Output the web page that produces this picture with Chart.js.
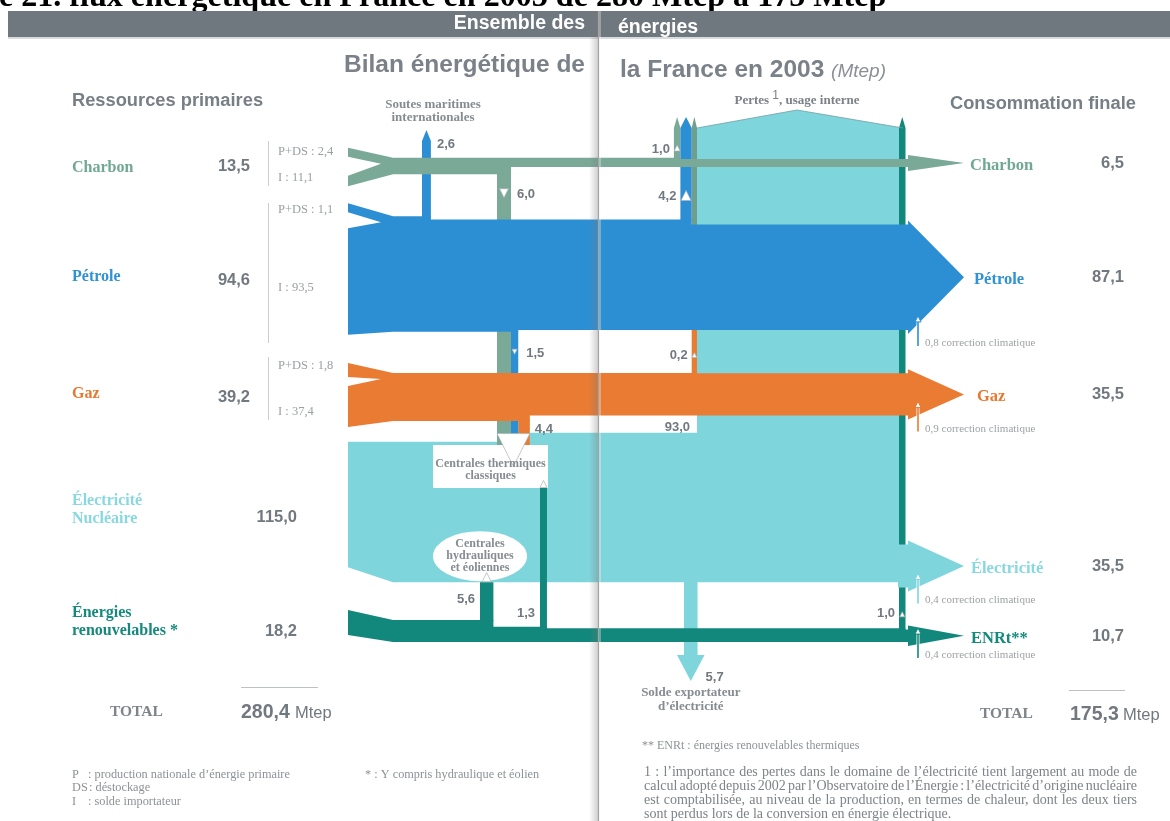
<!DOCTYPE html>
<html lang="fr">
<head>
<meta charset="utf-8">
<title>Bilan énergétique de la France en 2003</title>
<script src="https://cdn.jsdelivr.net/npm/chart.js@4.4.1/dist/chart.umd.min.js"></script>
<style>
  html, body { margin: 0; padding: 0; background: #fff; }
  #wrap { width: 1170px; height: 821px; }
</style>
</head>
<body>
<div id="wrap"><canvas id="chart" width="1170" height="821"></canvas></div>
<script>
// ---- data (Mtep) ----
const sourceNames = ["Charbon", "Pétrole", "Gaz", "Électricité|Nucléaire", "Énergies|renouvelables *"]
const primaryValues = [13.5, 94.6, 39.2, 115.0, 18.2]
const prodDestock = [2.4, 1.1, 1.8]      // P+DS
const importBalance = [11.1, 93.5, 37.4] // I
const finalNames = ["Charbon", "Pétrole", "Gaz", "Électricité", "ENRt**"]
const finalValues = [6.5, 87.1, 35.5, 35.5, 10.7]
const climateCorr = [null, 0.8, 0.9, 0.4, 0.4]
const toThermal = [6.0, 1.5, 4.4]   // charbon, pétrole, gaz -> centrales thermiques classiques
const toOwnUse = [1.0, 4.2, 0.2]    // charbon, pétrole, gaz -> pertes, usage interne
const bunkers = 2.6                 // soutes maritimes internationales
const enrFlows = [5.6, 1.3, 1.0]    // -> hydraulique/éolien, -> thermique, -> usage interne
const elecLosses = 93.0
const elecExport = 5.7
const totals = [280.4, 175.3]

const colors = ["#7aa998", "#2d8fd3", "#e97b33", "#7fd5dc", "#12877b"]
const labelColors = ["#70a893", "#2f92d4", "#e8782f", "#88d8e0", "#15897c"]
const GREY = "#71787f"
const SANS = '"Liberation Sans", Arial, Helvetica, sans-serif'
const SERIF = '"Liberation Serif", "Times New Roman", serif'

// ---- layout ----
const X0 = 348, XM = 393, XEND = 908, XTIP = 964, HEAD = 4
const bandCenter = [166, 274, 397, 512, 631]
const THERMAL_X = 497, THERMAL_Y = 445
const BOX = { x1: 433, x2: 548, y1: 445, y2: 488 }
const PERTES_L = 697, PERTES_R = 903, PERTES_Y = 128, ROOF_X = 797, ROOF_Y = 110
const SOUTES_X = 422, SOUTES_Y = 141
const ENR_X = [480, 540, 899]
const EXPORT_X = 684, EXPORT_Y = 655
const ELEC_ARROW_C = 566
const HYDRO = { rx: 47, ry: 25 }

const bw = v => 1.22 * v       // band thickness
const cw = v => 5 + 1.5 * v    // branch thickness
const fmt = v => v.toFixed(1).replace(".", ",")

const thX = [THERMAL_X]
for (let k = 1; k < 3; k++) thX[k] = thX[k - 1] + cw(toThermal[k - 1])
const thRight = thX[2] + cw(toThermal[2])
const ouX = []
ouX[2] = PERTES_L - cw(toOwnUse[2])
ouX[1] = ouX[2] - cw(toOwnUse[1])
ouX[0] = ouX[1] - cw(toOwnUse[0])

function forkLeft(i, ft, fb, gap, minH) {
  return (T, B) => {
    const a = T - ft, b = B + fb
    const room = b - a - gap
    const h2 = room * importBalance[i] / primaryValues[i]
    const h1 = Math.max(minH, room - h2)
    return [[X0, b], [X0, a + h1 + gap], [XM - 12, T + 6], [X0, a + h1], [X0, a]]
  }
}
const flareLeft = (dt, db) => (T, B) => [[X0, B + db], [X0, T + dt]]

function buildBand(i, events, left) {
  const w0 = bw(primaryValues[i])
  let T = bandCenter[i] - w0 / 2, B = bandCenter[i] + w0 / 2
  const T0 = T, B0 = B
  const top = [[XM, T]], bot = [[XM, B]], cols = []
  for (const e of [...events].sort((a, b) => a.x - b.x)) {
    const d = bw(e.v)
    if (e.side === "top") {
      cols.push({ ...e, edge: T })
      top.push([e.x + e.w, T]); T += d; top.push([e.x + e.w, T])
    } else {
      cols.push({ ...e, edge: B })
      bot.push([e.x + e.w, B]); B -= d; bot.push([e.x + e.w, B])
    }
  }
  const m = (T + B) / 2
  const pts = [...top, [XEND, T], [XEND, T - HEAD], [XTIP, m], [XEND, B + HEAD], [XEND, B],
    ...bot.reverse(), ...left(T0, B0)]
  return { pts, cols, T, B, tipY: m }
}

function colPoly(c) {
  if (c.side === "bottom") return [[c.x, c.edge - 1], [c.x + c.w, c.edge - 1], [c.x + c.w, c.to], [c.x, c.to]]
  const pts = [[c.x, c.edge + 1], [c.x, c.to]]
  if (c.head) pts.push([c.x + c.w / 2, c.to - 11])
  pts.push([c.x + c.w, c.to], [c.x + c.w, c.edge + 1])
  return pts
}

const branch = (v, x, side, to, head) => ({ v, x, w: cw(v), side, to, head })

const charbon = buildBand(0, [
  branch(toThermal[0], thX[0], "bottom", THERMAL_Y),
  branch(toOwnUse[0], ouX[0], "top", PERTES_Y, true)
], forkLeft(0, 10, 12, 19, 9))

const petrole = buildBand(1, [
  branch(bunkers, SOUTES_X, "top", SOUTES_Y, true),
  branch(toThermal[1], thX[1], "bottom", THERMAL_Y),
  branch(toOwnUse[1], ouX[1], "top", PERTES_Y, true)
], forkLeft(1, 13, 3, 16, 9))

const gaz = buildBand(2, [
  branch(toThermal[2], thX[2], "bottom", THERMAL_Y),
  branch(toOwnUse[2], ouX[2], "top", petrole.B - 2)
], forkLeft(2, 10, 6, 9, 14))
const gazUp = { ...branch(toOwnUse[2], ouX[2], "top", PERTES_Y, true), edge: petrole.T + 2 }

const E_TOP = bandCenter[3] - bw(primaryValues[3]) / 2
const E_BOT = bandCenter[3] + bw(primaryValues[3]) / 2

const enr = buildBand(4, [
  branch(enrFlows[0], ENR_X[0], "top", E_BOT),
  branch(enrFlows[1], ENR_X[1], "top", BOX.y2),
  branch(enrFlows[2], ENR_X[2], "top", PERTES_Y, true)
], flareLeft(-10, -7))

// electricity: nuclear band, losses block and export arrow
const exW = cw(elecExport)
const elecWall = [
  [X0, E_TOP], [thRight, E_TOP], [thRight, E_TOP - 9], [PERTES_L, E_TOP - 9],
  [PERTES_L, PERTES_Y], [ROOF_X, ROOF_Y], [PERTES_R, PERTES_Y], [PERTES_R, E_BOT],
  [EXPORT_X + exW, E_BOT], [EXPORT_X + exW, EXPORT_Y], [EXPORT_X + exW + 7, EXPORT_Y],
  [EXPORT_X + exW / 2, EXPORT_Y + 26], [EXPORT_X - 7, EXPORT_Y], [EXPORT_X, EXPORT_Y],
  [EXPORT_X, E_BOT], [XM, E_BOT], [X0, E_BOT - 15]
]
const eaW = bw(finalValues[3] - climateCorr[3])
const eaT = ELEC_ARROW_C - eaW / 2, eaB = ELEC_ARROW_C + eaW / 2
const elecArrow = [[ENR_X[2] - 1, eaT], [XEND, eaT], [XEND, eaT - HEAD], [XTIP, ELEC_ARROW_C],
  [XEND, eaB + HEAD], [XEND, eaB], [ENR_X[2] - 1, eaB]]

// ---- datasets, bottom to top ----
const datasets = []
function addPoly(label, pts, color) {
  datasets.push({
    label, data: pts.map(([x, y]) => ({ x, y })),
    backgroundColor: color, borderColor: color, borderWidth: 0,
    fill: "shape", pointRadius: 0, tension: 0
  })
}
addPoly("Électricité", elecWall, colors[3])
enr.cols.forEach(c => addPoly("ENR " + fmt(c.v), colPoly(c), colors[4]))
charbon.cols.forEach(c => addPoly("Charbon " + fmt(c.v), colPoly(c), colors[0]))
gaz.cols.forEach(c => addPoly("Gaz " + fmt(c.v), colPoly(c), colors[2]))
addPoly("Gaz usage interne", colPoly(gazUp), "#6f9d8e")
petrole.cols.forEach(c => addPoly("Pétrole " + fmt(c.v), colPoly(c), colors[1]))
addPoly("Charbon", charbon.pts, colors[0])
addPoly("Pétrole", petrole.pts, colors[1])
addPoly("Gaz", gaz.pts, colors[2])
addPoly("ENR", enr.pts, colors[4])
addPoly("Électricité finale", elecArrow, colors[3])
datasets.forEach((d, k) => { d.order = datasets.length - k })

// ---- drawing helpers ----
let X = v => v, Y = v => v
function txt(c, s, x, y, font, color, align) {
  c.font = font; c.fillStyle = color; c.textAlign = align || "left"; c.textBaseline = "alphabetic"
  c.fillText(s, X(x), Y(y))
}
function tri(c, cx, cy, s, dir) {
  const h = dir === "up" ? -1 : 1
  c.beginPath()
  c.moveTo(X(cx), Y(cy + h * s / 2))
  c.lineTo(X(cx + s / 2), Y(cy - h * s / 2))
  c.lineTo(X(cx - s / 2), Y(cy - h * s / 2))
  c.closePath()
  c.fillStyle = "#fff"; c.fill()
  c.strokeStyle = "#a9b0b4"; c.lineWidth = 0.7; c.stroke()
}
function line(c, x1, y1, x2, y2, color, w) {
  c.beginPath(); c.moveTo(X(x1), Y(y1)); c.lineTo(X(x2), Y(y2))
  c.strokeStyle = color; c.lineWidth = w || 1; c.stroke()
}
function justify(c, s, x, y, width) {
  const words = s.split(" ")
  const total = words.reduce((a, w) => a + c.measureText(w).width, 0)
  const gap = (width - total) / (words.length - 1)
  let cx = X(x)
  c.textAlign = "left"
  for (const w of words) { c.fillText(w, cx, Y(y)); cx += c.measureText(w).width + gap }
}

const pagePlugin = {
  id: "page",
  beforeDraw(chart) {
    const c = chart.ctx
    X = v => chart.scales.x.getPixelForValue(v)
    Y = v => chart.scales.y.getPixelForValue(v)
    c.save()
    c.fillStyle = "#fff"; c.fillRect(0, 0, chart.width, chart.height)
    // figure title, cut by the top of the page
    const title = "e 21. flux énergétique en France en 2003 de 280 Mtep à 175 Mtep"
    c.font = "bold 26px " + SERIF
    const fs = 26 * 888 / c.measureText(title).width
    txt(c, title, -1, 6, "bold " + fs.toFixed(1) + "px " + SERIF, "#000")
    // header bar
    c.fillStyle = "#6f787f"; c.fillRect(X(8), Y(11), X(1170) - X(8), Y(37) - Y(11))
    c.fillStyle = "#d9dcdf"; c.fillRect(X(8), Y(37), X(1170) - X(8), 2)
    txt(c, "Ensemble des", 585, 29, "bold 19.5px " + SANS, "#fff", "right")
    txt(c, "énergies", 618, 33, "bold 19.5px " + SANS, "#fff")
    c.restore()
  },
  afterDatasetDraw(chart, args) {
    if (args.index !== 0) return
    const c = chart.ctx
    c.save()
    c.fillStyle = "#fff"
    c.fillRect(X(BOX.x1), Y(BOX.y1), X(BOX.x2) - X(BOX.x1), Y(BOX.y2) - Y(BOX.y1))
    c.beginPath()
    c.ellipse(X(ENR_X[0]), Y(E_BOT - HYDRO.ry - 1), HYDRO.rx, HYDRO.ry, 0, 0, Math.PI * 2)
    c.fill()
    c.restore()
  },
  afterDatasetsDraw(chart) {
    const c = chart.ctx
    c.save()
    const num = "bold 13px " + SANS
    const small = "bold 12px " + SERIF
    const lab = "#868c91"

    // roof outline of the losses block
    c.beginPath()
    c.moveTo(X(PERTES_L), Y(PERTES_Y)); c.lineTo(X(ROOF_X), Y(ROOF_Y)); c.lineTo(X(PERTES_R), Y(PERTES_Y))
    c.strokeStyle = "#6f9fa3"; c.lineWidth = 0.8; c.stroke()

    // flow labels and white markers
    const [cTh, cOu] = charbon.cols
    const [pSo, pTh, pOu] = petrole.cols
    const [gTh, gOu] = gaz.cols
    const [eHy, eTh, eOu] = enr.cols
    txt(c, fmt(bunkers), pSo.x + pSo.w + 6, SOUTES_Y + 7, num, GREY)
    tri(c, cTh.x + cTh.w / 2, cTh.edge + 19, 9, "down")
    txt(c, fmt(cTh.v), cTh.x + cTh.w + 6, cTh.edge + 24, num, GREY)
    tri(c, pTh.x + pTh.w / 2, pTh.edge + 20, 5, "down")
    txt(c, fmt(pTh.v), pTh.x + pTh.w + 8, pTh.edge + 25, num, GREY)
    txt(c, fmt(gTh.v), gTh.x + gTh.w + 5, gTh.edge + 12, num, GREY)
    tri(c, thX[0] + (thRight - thX[0]) / 2, THERMAL_Y + 5, thRight - thX[0], "down")
    tri(c, cOu.x + cOu.w / 2, PERTES_Y + 20, 6, "up")
    txt(c, fmt(cOu.v), cOu.x - 4, PERTES_Y + 25, num, GREY, "right")
    tri(c, pOu.x + pOu.w / 2, pOu.edge - 24, 10, "up")
    txt(c, fmt(pOu.v), pOu.x - 4, pOu.edge - 19, num, GREY, "right")
    tri(c, gOu.x + gOu.w / 2, gOu.edge - 18, 5, "up")
    txt(c, fmt(gOu.v), gOu.x - 4, gOu.edge - 14, num, GREY, "right")
    txt(c, fmt(elecLosses), PERTES_L - 7, gaz.B + 15, num, GREY, "right")
    tri(c, eHy.x + eHy.w / 2, E_BOT - 5, 9, "up")
    txt(c, fmt(eHy.v), eHy.x - 5, E_BOT + 21, num, GREY, "right")
    tri(c, eTh.x + eTh.w / 2, BOX.y2 - 4, 7, "up")
    txt(c, fmt(eTh.v), eTh.x - 5, eTh.edge - 10, num, GREY, "right")
    tri(c, eOu.x + eOu.w / 2, eOu.edge - 14, 5, "up")
    txt(c, fmt(eOu.v), eOu.x - 4, eOu.edge - 11, num, GREY, "right")
    txt(c, fmt(elecExport), EXPORT_X + exW + 8, EXPORT_Y + 26, num, GREY)

    // climate corrections
    const ends = [null, petrole.B, gaz.B, eaB, enr.B]
    for (let i = 1; i < 5; i++) {
      const x = XEND + 10, yb = ends[i] + HEAD + 12, yt = ends[i] + HEAD - 18
      line(c, x, yb, x, yt + 4, "#fff", 3)
      line(c, x, yb, x, yt + 4, colors[i], 1.6)
      c.beginPath()
      c.moveTo(X(x - 3), Y(yt + 6)); c.lineTo(X(x), Y(yt)); c.lineTo(X(x + 3), Y(yt + 6)); c.closePath()
      c.fillStyle = "#fff"; c.fill(); c.strokeStyle = colors[i]; c.lineWidth = 1; c.stroke()
      txt(c, fmt(climateCorr[i]) + " correction climatique", x + 7, yb, "11px " + SERIF, "#9da2a6")
    }

    // node labels
    txt(c, "Soutes maritimes", SOUTES_X + 11, 108, "bold 13px " + SERIF, lab, "center")
    txt(c, "internationales", SOUTES_X + 11, 121, "bold 13px " + SERIF, lab, "center")
    c.font = "bold 13px " + SERIF
    const p1 = "Pertes ", p2 = ", usage interne"
    const w1 = c.measureText(p1).width, w2 = c.measureText(p2).width
    c.font = "12px " + SANS
    const ws = c.measureText("1").width
    const px0 = X(ROOF_X) - (w1 + ws + w2) / 2
    txt(c, p1, px0, 104, "bold 13px " + SERIF, "#7b8186")
    txt(c, "1", px0 + w1, 99, "12px " + SANS, "#7b8186")
    txt(c, p2, px0 + w1 + ws, 104, "bold 13px " + SERIF, "#7b8186")
    const bx = (BOX.x1 + BOX.x2) / 2
    txt(c, "Centrales thermiques", bx, 467, small, lab, "center")
    txt(c, "classiques", bx, 479, small, lab, "center")
    const hy = E_BOT - HYDRO.ry - 1
    txt(c, "Centrales", ENR_X[0], hy - 9, small, lab, "center")
    txt(c, "hydrauliques", ENR_X[0], hy + 3, small, lab, "center")
    txt(c, "et éoliennes", ENR_X[0], hy + 15, small, lab, "center")
    const exC = EXPORT_X + exW / 2
    txt(c, "Solde exportateur", exC, 696, "bold 13px " + SERIF, lab, "center")
    txt(c, "d’électricité", exC, 710, "bold 13px " + SERIF, lab, "center")

    // headings
    txt(c, "Bilan énergétique de", 585, 72, "bold 24.5px " + SANS, "#7a8188", "right")
    txt(c, "la France en 2003", 620, 77, "bold 24.5px " + SANS, "#7a8188")
    c.font = "bold 24.5px " + SANS
    const wf = c.measureText("la France en 2003 ").width
    txt(c, "(Mtep)", X(620) + wf, 77, "italic 19px " + SANS, "#8a9096")
    txt(c, "Ressources primaires", 72, 106, "bold 18.3px " + SANS, "#777f86")
    txt(c, "Consommation finale", 950, 109, "bold 18.3px " + SANS, "#777f86")

    // primary resources
    const srcY = [172, 281, 398, 505, 617]
    const valX = [250, 250, 250, 297, 297]
    const valY = [171, 285, 402, 522, 636]
    sourceNames.forEach((n, i) => {
      n.split("|").forEach((part, k) =>
        txt(c, part, 72, srcY[i] + k * 18, "bold 16px " + SERIF, labelColors[i]))
      txt(c, fmt(primaryValues[i]), valX[i], valY[i], "bold 16.5px " + SANS, GREY, "right")
    })
    const brackets = [[141, 186], [203, 343], [357, 420]]
    const pdsY = [155, 213, 369], impY = [181, 291, 415]
    brackets.forEach(([a, b], i) => {
      line(c, 268.5, a, 268.5, b, "#c9cdd0", 1)
      txt(c, "P+DS : " + fmt(prodDestock[i]), 278, pdsY[i], "12.5px " + SERIF, "#9aa0a4")
      txt(c, "I : " + fmt(importBalance[i]), 278, impY[i], "12.5px " + SERIF, "#9aa0a4")
    })

    // final consumption
    const finX = [970, 974, 977, 971, 971]
    const tips = [charbon.tipY, petrole.tipY, gaz.tipY, ELEC_ARROW_C, enr.tipY]
    finalNames.forEach((n, i) => {
      txt(c, n, finX[i], tips[i] + 7, "bold 16.5px " + SERIF, labelColors[i])
      txt(c, fmt(finalValues[i]), 1124, tips[i] + 5, "bold 16.5px " + SANS, GREY, "right")
    })

    // totals
    line(c, 241, 687.5, 318, 687.5, "#bcc1c5", 1)
    line(c, 1069, 690.5, 1125, 690.5, "#bcc1c5", 1)
    txt(c, "TOTAL", 110, 716, "bold 15.5px " + SERIF, "#7e8489")
    txt(c, "TOTAL", 980, 718, "bold 15.5px " + SERIF, "#7e8489")
    txt(c, fmt(totals[0]), 241, 718, "bold 19.5px " + SANS, GREY)
    txt(c, "Mtep", 295, 718, "16.5px " + SANS, GREY)
    txt(c, fmt(totals[1]), 1070, 720, "bold 19.5px " + SANS, GREY)
    txt(c, "Mtep", 1123, 720, "16.5px " + SANS, GREY)

    // footnotes
    const fn = "12.3px " + SERIF, fc = "#8d9297"
    txt(c, "P", 72, 778, fn, fc); txt(c, ": production nationale d’énergie primaire", 88, 778, fn, fc)
    txt(c, "DS", 72, 791, fn, fc); txt(c, ": déstockage", 89, 791, fn, fc)
    txt(c, "I", 72, 805, fn, fc); txt(c, ": solde importateur", 88, 805, fn, fc)
    txt(c, "* : Y compris hydraulique et éolien", 365, 778, fn, fc)
    txt(c, "** ENRt : énergies renouvelables thermiques", 642, 749, "12px " + SERIF, fc)
    const pf = "14px " + SERIF
    c.font = pf; c.fillStyle = "#7d8388"
    justify(c, "1 : l’importance des pertes dans le domaine de l’électricité tient largement au mode de", 644, 776, 493)
    justify(c, "calcul adopté depuis 2002 par l’Observatoire de l’Énergie : l’électricité d’origine nucléaire", 644, 790, 493)
    justify(c, "est comptabilisée, au niveau de la production, en termes de chaleur, dont les deux tiers", 644, 804, 493)
    txt(c, "sont perdus lors de la conversion en énergie électrique.", 644, 818, pf, "#7d8388")

    // gutter of the magazine spread
    const g = c.createLinearGradient(X(589), 0, X(598), 0)
    g.addColorStop(0, "rgba(120,120,120,0)")
    g.addColorStop(1, "rgba(120,120,120,0.35)")
    c.fillStyle = g
    c.fillRect(X(589), Y(11), X(598) - X(589), Y(821) - Y(11))
    line(c, 598.5, 11, 598.5, 821, "#a3a3a3", 1.2)
    line(c, 600, 11, 600, 821, "rgba(255,255,255,0.6)", 1)
    c.restore()
  }
}

new Chart(document.getElementById("chart"), {
  type: "line",
  data: { datasets },
  options: {
    responsive: false,
    animation: false,
    devicePixelRatio: 1,
    events: [],
    layout: { padding: 0 },
    plugins: { legend: { display: false }, tooltip: { enabled: false } },
    scales: {
      x: { type: "linear", min: 0, max: 1170, display: false },
      y: { type: "linear", min: 0, max: 821, reverse: true, display: false }
    }
  },
  plugins: [pagePlugin]
})
</script>
</body>
</html>
